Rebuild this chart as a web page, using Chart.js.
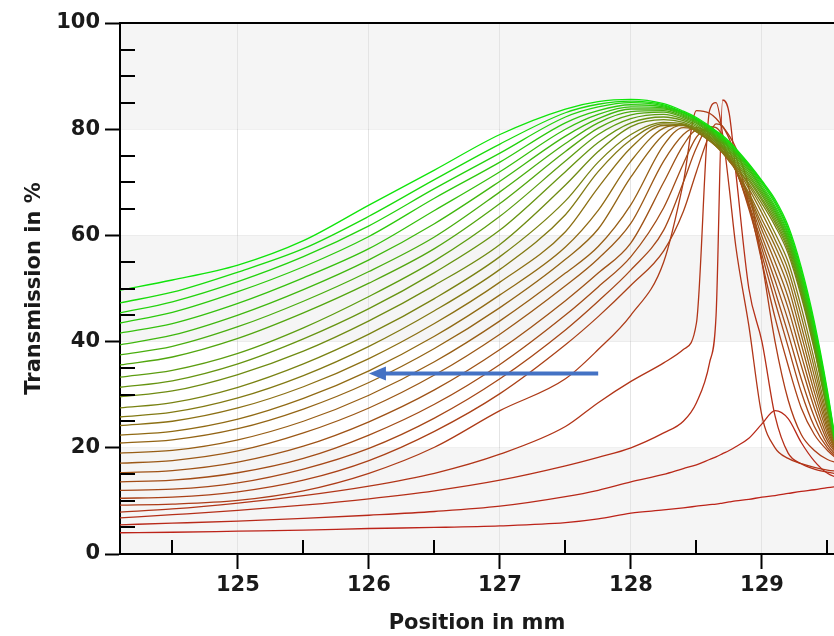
<!DOCTYPE html>
<html>
<head>
<meta charset="utf-8">
<script src="https://cdn.jsdelivr.net/npm/chart.js@4.4.1/dist/chart.umd.min.js"></script>
<style>
  html, body { margin: 0; padding: 0; background: #fff; }
</style>
</head>
<body>
<canvas id="scan-chart" width="834" height="636"></canvas>
<script>
// Transmission scans, one row per scan, red (first) to green (last)
var positions = [124.1, 124.5, 125, 125.5, 126, 126.5, 127, 127.5, 127.75, 128, 128.25, 128.4, 128.5,
                 128.6, 128.65, 128.7, 128.75, 128.8, 128.9, 129, 129.1, 129.2, 129.3, 129.4, 129.5, 129.6];
var xTicks = [125, 126, 127, 128, 129];
var yTicks = [0, 20, 40, 60, 80, 100];

var scan00 = [4.0, 4.1, 4.3, 4.5, 4.8, 5.0, 5.3, 5.9, 6.6, 7.7, 8.3, 8.7, 9.0, 9.3, 9.4, 9.6, 9.8, 10.0, 10.3, 10.7, 11.0, 11.4, 11.8, 12.1, 12.5, 12.8];
var scan01 = [5.5, 5.8, 6.2, 6.7, 7.3, 8.0, 9.0, 10.8, 12.0, 13.6, 15.0, 16.1, 16.8, 17.8, 18.3, 18.9, 19.5, 20.2, 21.8, 24.5, 27.0, 25.5, 21.0, 17.5, 15.2, 14.2];
var scan02 = [6.8, 7.4, 8.2, 9.2, 10.4, 11.9, 13.9, 16.6, 18.2, 20.0, 22.8, 25.0, 28.5, 36.0, 45.0, 85.5, 83.0, 72.0, 50.0, 40.0, 26.0, 19.0, 17.0, 16.0, 15.4, 15.0];
var scan03 = [7.9, 8.5, 9.6, 11.0, 12.8, 15.2, 18.8, 24.0, 28.5, 32.5, 36.0, 38.5, 43.5, 83.5, 85.0, 79.0, 69.0, 58.0, 43.0, 26.0, 20.0, 18.0, 17.0, 16.3, 15.8, 15.5];
var scan04 = [9.2, 9.4, 10.1, 11.9, 15.2, 20.1, 27.0, 33.0, 38.5, 45.0, 55.0, 70.0, 83.5, 83.0, 82.0, 80.5, 78.8, 76.5, 69.0, 55.0, 40.0, 29.0, 22.5, 19.5, 17.8, 17.0];
var scan05 = [10.5, 10.7, 11.7, 13.9, 17.6, 23.1, 30.2, 39.4, 44.7, 50.6, 57.1, 64.5, 72.0, 79.0, 81.0, 80.5, 78.2, 75.0, 66.0, 55.0, 44.5, 35.5, 27.5, 22.5, 19.5, 17.4];
var scan06 = [12.0, 12.2, 13.4, 16.0, 19.9, 25.6, 33.0, 42.2, 47.6, 53.5, 61.0, 70.0, 76.5, 80.5, 80.3, 78.8, 76.0, 72.8, 65.0, 56.3, 47.5, 39.0, 30.5, 24.0, 20.0, 17.6];
var scan07 = [13.6, 13.9, 15.3, 18.0, 22.4, 28.2, 35.7, 45.0, 50.3, 56.0, 65.2, 73.5, 78.5, 80.4, 79.5, 77.5, 75.0, 72.3, 65.5, 57.5, 49.5, 41.5, 33.0, 25.8, 20.6, 17.8];
var scan08 = [15.3, 15.7, 17.3, 20.3, 24.9, 30.9, 38.5, 47.7, 52.9, 58.6, 70.0, 77.0, 79.8, 79.8, 78.5, 76.8, 74.6, 72.2, 66.0, 58.6, 51.5, 44.0, 35.5, 27.5, 21.3, 18.0];
var scan09 = [17.1, 17.6, 19.4, 22.8, 27.5, 33.7, 41.4, 50.5, 55.6, 62.3, 74.0, 79.0, 80.3, 79.2, 78.0, 76.5, 74.6, 72.5, 66.8, 59.8, 53.3, 46.3, 37.5, 29.0, 22.0, 18.0];
var scan10 = [19.0, 19.5, 21.5, 25.0, 29.9, 36.2, 43.9, 52.9, 57.9, 65.8, 77.0, 80.3, 80.0, 78.6, 77.4, 76.0, 74.3, 72.4, 67.3, 61.0, 55.0, 48.3, 39.5, 30.5, 22.8, 17.8];
var scan11 = [20.9, 21.5, 23.6, 27.3, 32.3, 38.7, 46.4, 55.5, 61.2, 71.0, 79.0, 80.8, 79.8, 78.2, 77.0, 75.6, 74.0, 72.3, 67.6, 62.0, 56.6, 50.3, 41.3, 32.0, 23.5, 17.6];
var scan12 = [22.4, 23.1, 25.4, 29.3, 34.5, 41.0, 48.8, 57.8, 64.7, 74.0, 80.2, 80.8, 79.6, 77.9, 76.8, 75.5, 74.0, 72.4, 68.0, 63.0, 58.0, 52.0, 43.0, 33.5, 24.2, 17.5];
var scan13 = [24.2, 25.0, 27.5, 31.5, 36.8, 43.4, 51.2, 60.7, 69.0, 76.5, 80.7, 80.7, 79.5, 77.8, 76.8, 75.6, 74.3, 72.8, 68.8, 64.2, 59.2, 53.5, 44.8, 35.0, 25.0, 17.4];
var scan14 = [25.8, 26.7, 29.4, 33.6, 39.1, 45.8, 53.6, 63.9, 72.0, 78.0, 81.0, 80.7, 79.6, 77.9, 76.9, 75.8, 74.6, 73.2, 69.4, 65.2, 60.4, 55.0, 46.5, 36.5, 25.8, 17.2];
var scan15 = [27.5, 28.5, 31.4, 35.8, 41.4, 48.1, 56.0, 66.5, 73.8, 79.0, 81.3, 81.0, 79.9, 78.2, 77.1, 76.0, 74.7, 73.2, 69.8, 66.0, 61.8, 56.6, 48.5, 38.4, 26.8, 16.6];
var scan16 = [29.6, 30.7, 33.8, 38.2, 43.9, 50.6, 58.3, 69.5, 75.8, 80.5, 81.8, 81.3, 80.2, 78.5, 77.5, 76.4, 75.1, 73.6, 70.3, 66.6, 62.4, 57.2, 49.0, 38.8, 27.0, 16.5];
var scan17 = [31.4, 32.6, 35.8, 40.5, 46.2, 53.0, 61.0, 72.0, 77.5, 81.2, 82.3, 81.6, 80.5, 78.8, 77.8, 76.7, 75.5, 74.0, 70.7, 67.0, 62.9, 57.7, 49.5, 39.3, 27.3, 16.4];
var scan18 = [33.3, 34.6, 37.8, 42.6, 48.5, 55.2, 63.6, 74.0, 79.0, 82.0, 82.8, 81.9, 80.8, 79.1, 78.1, 77.0, 75.8, 74.4, 71.1, 67.5, 63.4, 58.2, 50.0, 39.8, 27.6, 16.3];
var scan19 = [35.6, 37.1, 40.6, 45.4, 51.0, 57.5, 66.0, 75.8, 80.2, 82.7, 83.2, 82.2, 81.1, 79.4, 78.4, 77.3, 76.1, 74.8, 71.5, 67.9, 63.9, 58.7, 50.5, 40.2, 27.9, 16.2];
var scan20 = [37.5, 39.1, 42.8, 47.6, 53.2, 59.7, 68.2, 77.3, 81.2, 83.3, 83.5, 82.4, 81.3, 79.6, 78.6, 77.6, 76.4, 75.1, 71.9, 68.3, 64.3, 59.1, 50.9, 40.6, 28.2, 16.0];
var scan21 = [39.4, 41.2, 45.0, 49.8, 55.4, 62.2, 70.2, 78.7, 82.0, 83.8, 83.8, 82.6, 81.5, 79.8, 78.8, 77.8, 76.7, 75.4, 72.3, 68.7, 64.7, 59.5, 51.4, 41.1, 28.6, 15.9];
var scan22 = [41.6, 43.4, 47.2, 52.0, 57.5, 64.7, 72.0, 80.0, 82.8, 84.2, 84.0, 82.8, 81.7, 80.0, 79.0, 78.0, 76.9, 75.6, 72.6, 69.0, 65.1, 60.0, 51.9, 41.6, 29.0, 15.8];
var scan23 = [43.5, 45.5, 49.4, 54.1, 59.8, 67.0, 73.8, 81.2, 83.5, 84.6, 84.2, 83.0, 81.8, 80.2, 79.2, 78.2, 77.1, 75.8, 72.9, 69.4, 65.5, 60.4, 52.4, 42.1, 29.4, 15.6];
var scan24 = [45.4, 47.5, 51.3, 56.0, 61.8, 68.8, 75.5, 82.3, 84.2, 85.0, 84.4, 83.1, 81.9, 80.3, 79.4, 78.4, 77.3, 76.0, 73.1, 69.8, 66.0, 60.9, 52.9, 42.6, 29.8, 15.4];
var scan25 = [47.3, 49.3, 53.1, 57.5, 63.6, 70.5, 77.2, 83.1, 84.7, 85.3, 84.6, 83.2, 82.0, 80.4, 79.5, 78.6, 77.5, 76.2, 73.3, 70.1, 66.4, 61.3, 53.4, 43.1, 30.2, 15.2];
var scan26 = [49.7, 51.6, 54.4, 59.0, 65.7, 72.3, 79.0, 83.8, 85.2, 85.6, 84.8, 83.4, 82.2, 80.6, 79.7, 78.8, 77.7, 76.4, 73.5, 70.3, 66.8, 61.8, 54.0, 43.7, 30.7, 15.0];

var scans = [scan00, scan01, scan02, scan03, scan04, scan05, scan06, scan07, scan08, scan09,
             scan10, scan11, scan12, scan13, scan14, scan15, scan16, scan17, scan18, scan19,
             scan20, scan21, scan22, scan23, scan24, scan25, scan26];

// blue arrow (position in mm, transmission in %)
var arrowFrom = [127.75, 34];
var arrowTo = [126.0, 34];

var labelFont = { family: 'DejaVu Sans', weight: 'bold', size: 21 };

// red -> olive -> green
function scanColour(i, n) {
  var t = i / (n - 1);
  var a, b, u;
  if (t < 0.5) { a = [188, 35, 25]; b = [140, 112, 20]; u = t / 0.5; }
  else { a = [140, 112, 20]; b = [15, 228, 10]; u = (t - 0.5) / 0.5; }
  var c = a.map(function (v, k) { return Math.round(v + (b[k] - v) * u); });
  return 'rgb(' + c.join(',') + ')';
}

var datasets = scans.map(function (row, i) {
  return {
    data: row.map(function (v, j) { return { x: positions[j], y: v }; }),
    borderColor: scanColour(i, scans.length),
    borderWidth: 1.3,
    pointRadius: 0,
    fill: false,
    cubicInterpolationMode: 'monotone',
    order: scans.length - i
  };
});

// grey bands, minor ticks, top frame line and the arrow
var decorations = {
  id: 'decorations',
  beforeDraw: function (chart) {
    var ctx = chart.ctx, area = chart.chartArea, y = chart.scales.y;
    ctx.save();
    ctx.fillStyle = '#f5f5f5';
    [[0, 20], [40, 60], [80, 100]].forEach(function (band) {
      var top = y.getPixelForValue(band[1]), bottom = y.getPixelForValue(band[0]);
      ctx.fillRect(area.left, top, area.right - area.left, bottom - top);
    });
    ctx.restore();
  },
  afterDatasetsDraw: function (chart) {
    var ctx = chart.ctx, area = chart.chartArea, x = chart.scales.x, y = chart.scales.y;
    ctx.save();
    ctx.strokeStyle = '#000';
    ctx.lineWidth = 2;
    ctx.beginPath();
    for (var v = 124.5; v < 129.6; v += 1) {
      var px = Math.round(x.getPixelForValue(v));
      ctx.moveTo(px, area.bottom);
      ctx.lineTo(px, area.bottom - 14);
    }
    for (var w = 5; w < 100; w += 5) {
      if (w % 20 === 0) continue;
      var py = Math.round(y.getPixelForValue(w));
      ctx.moveTo(area.left, py);
      ctx.lineTo(area.left + 15, py);
    }
    ctx.moveTo(area.left, area.top);
    ctx.lineTo(area.right, area.top);
    ctx.stroke();

    // arrow
    var x0 = x.getPixelForValue(arrowFrom[0]), y0 = y.getPixelForValue(arrowFrom[1]);
    var x1 = x.getPixelForValue(arrowTo[0]), y1 = y.getPixelForValue(arrowTo[1]);
    ctx.strokeStyle = '#4472c4';
    ctx.fillStyle = '#4472c4';
    ctx.lineWidth = 4;
    ctx.beginPath();
    ctx.moveTo(x0, y0);
    ctx.lineTo(x1 + 14, y1);
    ctx.stroke();
    ctx.beginPath();
    ctx.moveTo(x1, y1);
    ctx.lineTo(x1 + 17, y1 - 7);
    ctx.lineTo(x1 + 17, y1 + 7);
    ctx.closePath();
    ctx.fill();
    ctx.restore();
  }
};

var scanCanvas = document.getElementById('scan-chart');
var scanChart = new Chart(scanCanvas, {
  type: 'line',
  data: { datasets: datasets },
  plugins: [decorations],
  options: {
    responsive: false,
    animation: false,
    devicePixelRatio: 1,
    events: [],
    layout: { padding: { top: 23, right: 0, bottom: 0, left: 0 } },
    plugins: { legend: { display: false }, tooltip: { enabled: false } },
    scales: {
      x: {
        type: 'linear',
        min: 124.1,
        max: 129.55,
        afterBuildTicks: function (s) { s.ticks = xTicks.map(function (v) { return { value: v }; }); },
        afterFit: function (s) { s.height = 82; },
        grid: { color: '#e4e4e4', lineWidth: 1, tickColor: '#000', tickLength: 15, tickWidth: 2 },
        border: { display: true, color: '#000', width: 2 },
        ticks: { font: labelFont, color: '#1a1a1a', padding: 4, maxRotation: 0, autoSkip: false },
        title: { display: true, text: 'Position in mm', font: labelFont, color: '#1a1a1a', padding: { top: 4, bottom: 0 } }
      },
      y: {
        min: 0,
        max: 100,
        afterBuildTicks: function (s) { s.ticks = yTicks.map(function (v) { return { value: v }; }); },
        afterFit: function (s) { s.width = 120; },
        grid: { color: 'rgba(0,0,0,0.05)', tickColor: '#000', tickLength: 15, tickWidth: 2 },
        border: { display: true, color: '#000', width: 2 },
        ticks: { font: labelFont, color: '#1a1a1a', padding: 5 },
        title: { display: true, text: 'Transmission in %', font: labelFont, color: '#1a1a1a', padding: { top: 22, bottom: 0 } }
      }
    }
  }
});
</script>
</body>
</html>
